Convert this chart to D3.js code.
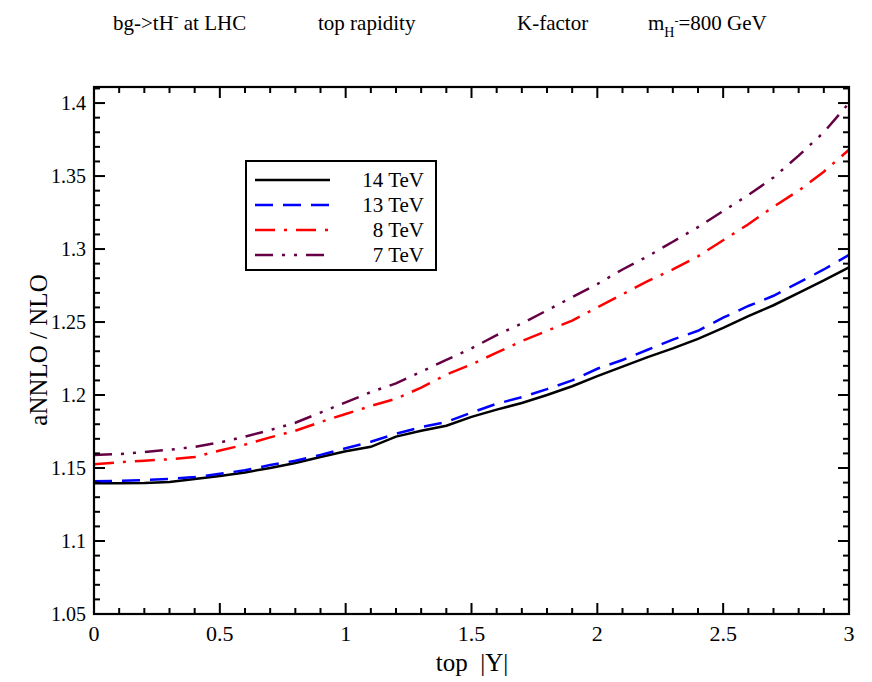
<!DOCTYPE html>
<html><head><meta charset="utf-8">
<script src="https://cdn.jsdelivr.net/npm/d3@7"></script>
<style>body{margin:0;background:#fff}svg{display:block}
html body svg#c text, html body svg#c tspan{font-family:"Liberation Serif", "Times New Roman", serif !important;}
</style>
</head><body>
<svg id="c" width="872" height="682"></svg>
<script>
const xs = [0,0.1,0.2,0.3,0.4,0.5,0.6,0.7,0.8,0.9,1.0,1.1,1.2,1.3,1.4,1.5,1.6,1.7,1.8,1.9,2.0,2.1,2.2,2.3,2.4,2.5,2.6,2.7,2.8,2.9,3.0];
const k14 = [1.1395,1.1395,1.1397,1.1405,1.1425,1.1445,1.1470,1.1500,1.1535,1.1575,1.1615,1.1645,1.1715,1.1755,1.1790,1.1850,1.1900,1.1945,1.2000,1.2060,1.2130,1.2195,1.2260,1.2320,1.2385,1.2460,1.2540,1.2615,1.2700,1.2785,1.2875];
const k13 = [1.1410,1.1412,1.1418,1.1425,1.1438,1.1460,1.1485,1.1520,1.1550,1.1590,1.1635,1.1680,1.1735,1.1780,1.1815,1.1880,1.1940,1.1985,1.2040,1.2100,1.2180,1.2240,1.2310,1.2380,1.2440,1.2530,1.2610,1.2680,1.2770,1.2860,1.2960];
const k8  = [1.1525,1.1540,1.1550,1.1560,1.1575,1.1620,1.1660,1.1710,1.1755,1.1815,1.1870,1.1925,1.1975,1.2050,1.2140,1.2210,1.2290,1.2370,1.2440,1.2510,1.2600,1.2690,1.2780,1.2860,1.2950,1.3060,1.3170,1.3290,1.3400,1.3530,1.3680];
const k7  = [1.1590,1.1595,1.1610,1.1625,1.1645,1.1675,1.1715,1.1760,1.1810,1.1880,1.1950,1.2020,1.2080,1.2160,1.2240,1.2320,1.2410,1.2490,1.2580,1.2670,1.2760,1.2860,1.2950,1.3050,1.3150,1.3260,1.3370,1.3490,1.3640,1.3800,1.4000];
const seriesNames = ["14 TeV","13 TeV","8 TeV","7 TeV"];
const xTicks = [0,0.5,1,1.5,2,2.5,3];
const yTicks = [1.05,1.1,1.15,1.2,1.25,1.3,1.35,1.4];

const FONT = "Liberation Serif";
const styles = [
  {color:"#000000", dash:null},
  {color:"#0000ff", dash:"18,10"},
  {color:"#ff0000", dash:"20,9,3,9"},
  {color:"#660044", dash:"18,9,3,9,3,9"}
];
const series = [k14,k13,k8,k7];

const svg = d3.select("#c");
const L=94, R=849, T=87, B=614;
const xScale = d3.scaleLinear().domain([0,3]).range([L,R]);
const yScale = d3.scaleLinear().domain([1.05,1.411]).range([B,T]);

function txt(parent, size){
  return parent.append("text").style("font-family",FONT,"important").attr("font-family",FONT)
    .attr("font-size",size).attr("fill","#000");
}

const lineGen = d3.line().x((d,i)=>xScale(xs[i])).y(d=>yScale(d));
const g = svg.append("g");
series.forEach((arr,i)=>{
  g.append("path").attr("d",lineGen(arr)).attr("fill","none")
   .attr("stroke",styles[i].color).attr("stroke-width",2.5)
   .attr("stroke-dasharray",styles[i].dash);
});

const xMinor = d3.range(0,3.0001,0.1);
const yMinor = d3.range(1.05,1.4101,0.01);
const tg = svg.append("g").attr("stroke","#000").attr("stroke-width",2);
xMinor.forEach(v=>{
  const major = xTicks.some(t=>Math.abs(t-v)<1e-6);
  const len = major?11:6;
  tg.append("line").attr("x1",xScale(v)).attr("x2",xScale(v)).attr("y1",B).attr("y2",B-len);
  tg.append("line").attr("x1",xScale(v)).attr("x2",xScale(v)).attr("y1",T).attr("y2",T+len);
});
yMinor.forEach(v=>{
  const major = yTicks.some(t=>Math.abs(t-v)<1e-6);
  const len = major?11:6;
  tg.append("line").attr("x1",L).attr("x2",L+len).attr("y1",yScale(v)).attr("y2",yScale(v));
  tg.append("line").attr("x1",R).attr("x2",R-len).attr("y1",yScale(v)).attr("y2",yScale(v));
});
svg.append("rect").attr("x",L).attr("y",T).attr("width",R-L).attr("height",B-T)
  .attr("fill","none").attr("stroke","#000").attr("stroke-width",2.2);

const xl = svg.append("g");
xTicks.forEach(d=>{
  txt(xl,22).attr("x",xScale(d)).attr("y",B+27).attr("text-anchor","middle").text(String(d));
});
const yl = svg.append("g");
yTicks.forEach(d=>{
  txt(yl,20).attr("x",L-8).attr("y",yScale(d)+7).attr("text-anchor","end").text(String(d));
});

txt(svg,25).attr("x",472).attr("y",671).attr("text-anchor","middle").text("top\u00a0\u00a0|Y|");
txt(svg,25).attr("transform","translate(47,350) rotate(-90)")
  .attr("text-anchor","middle").text("aNNLO / NLO");

const t1 = txt(svg,21).attr("x",113).attr("y",30);
t1.append("tspan").text("bg->tH");
t1.append("tspan").attr("dy",-9).attr("font-size",14).text("-");
t1.append("tspan").attr("dy",9).text("\u00a0at LHC");
txt(svg,21).attr("x",318).attr("y",30).text("top rapidity");
txt(svg,21).attr("x",517).attr("y",30).text("K-factor");
const t4 = txt(svg,21).attr("x",648).attr("y",30);
t4.append("tspan").text("m");
t4.append("tspan").attr("dy",7).attr("font-size",14).text("H");
t4.append("tspan").attr("dy",-12).attr("font-size",12).text("-");
t4.append("tspan").attr("dy",5).text("=800 GeV");

const lg = svg.append("g");
lg.append("rect").attr("x",246).attr("y",161).attr("width",190).attr("height",109)
  .attr("fill","#fff").attr("stroke","#000").attr("stroke-width",2);
const rows = [180,205,230,255];
seriesNames.forEach((n,i)=>{
  lg.append("line").attr("x1",255).attr("x2",330).attr("y1",rows[i]).attr("y2",rows[i])
    .attr("stroke",styles[i].color).attr("stroke-width",2.5).attr("stroke-dasharray",styles[i].dash);
  txt(lg,21).attr("x",424).attr("y",rows[i]+7).attr("text-anchor","end").text(n);
});
</script>
</body></html>
